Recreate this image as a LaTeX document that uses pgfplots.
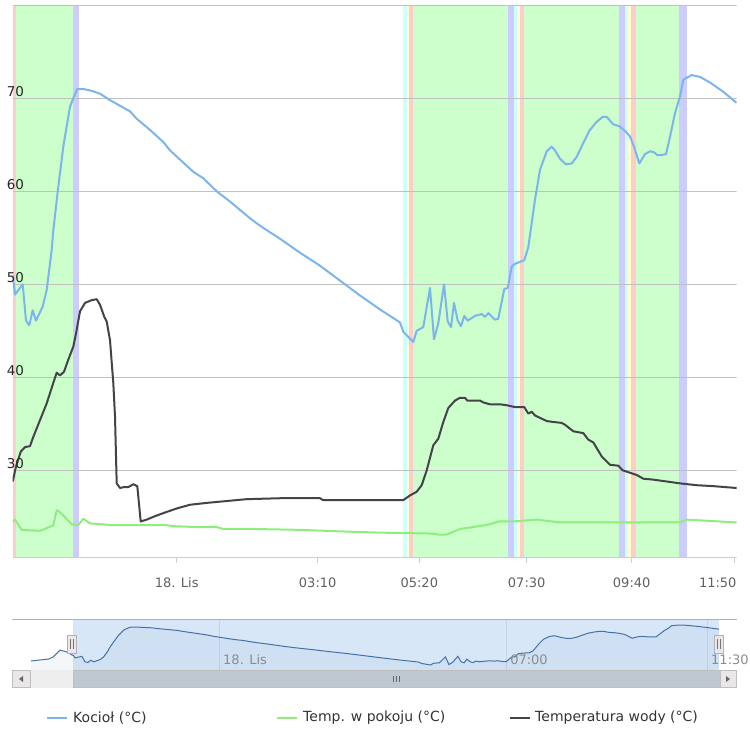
\documentclass[border=0pt]{standalone}
\usepackage{fontspec}
\setmainfont{DejaVu Sans}
\usepackage{pgfplots}
\usepackage{pgfplotstable}
\pgfplotsset{compat=1.18}

\definecolor{kociol}{HTML}{7CB5EC}
\definecolor{woda}{HTML}{434348}
\definecolor{pokoj}{HTML}{90ED7D}
\definecolor{bgreen}{HTML}{CCFFCC}
\definecolor{bviolet}{HTML}{CCCCFF}
\definecolor{bred}{HTML}{FFCCCC}
\definecolor{bcyan}{HTML}{CCFFFF}
\definecolor{byellow}{HTML}{FFFFCC}
\definecolor{gridgray}{HTML}{C0C0C0}
\definecolor{axisblue}{HTML}{C0D0E0}
\definecolor{labelgray}{HTML}{606060}
\definecolor{navblue}{HTML}{4572A7}
\definecolor{maskblue}{RGB}{216,231,248}
\definecolor{navgrid}{HTML}{C8D4E4}
\definecolor{outline}{HTML}{B2B1B6}
\definecolor{handlebg}{HTML}{EBE7E8}
\definecolor{track}{HTML}{EEEEEE}
\definecolor{thumb}{HTML}{BFC8D1}

% x is the position along the (ordinal) time axis, y in degrees C
\pgfplotstableread{
x y
12.7 51.0
15 48.9
22.7 50.0
26 46.1
29.3 45.6
32.7 47.2
36 46.1
42.7 47.6
46.7 49.4
51.7 53.7
53.3 55.8
58.3 60.5
63.3 64.8
70 69.1
74 70.2
77.3 71.0
83.3 71.0
91.7 70.8
100 70.5
110 69.8
120 69.2
130 68.6
136.7 67.8
150 66.6
163.3 65.3
170 64.4
193.3 62.1
203.3 61.4
216.7 60.0
230 58.9
250 57.1
260 56.3
280 54.9
300 53.4
320 52.0
340 50.4
360 48.8
380 47.3
400 45.9
403.3 44.9
413.3 43.8
416.7 45.0
423.3 45.4
430 49.6
434 44.1
438.3 45.8
444 50.0
447.7 46.0
451 45.4
454 48.0
457.7 46.1
461 45.5
464.3 46.6
467.7 46.1
475 46.6
481.7 46.8
485 46.5
488.3 46.9
495 46.2
498.3 46.3
504.3 49.5
507.7 49.6
511.7 51.9
515 52.2
524.3 52.6
528.3 54.0
535 59.1
540 62.3
546.7 64.3
551.7 64.8
555 64.4
560 63.5
566 62.9
571.7 63.0
576.7 63.7
583.3 65.2
589.3 66.5
596 67.4
602.7 68.0
606.7 68.0
613.3 67.2
619.3 67.0
625 66.5
630 65.9
634 64.8
639.3 63.0
645 64.0
650 64.3
654 64.2
657.3 63.9
661.7 63.9
666 64.0
669.3 65.5
675 68.4
680 70.2
683.3 72.0
691.7 72.5
700 72.3
710 71.7
723.3 70.7
736.7 69.5
}\kociolT

\pgfplotstableread{
x y
12.7 24.5
15 24.7
21.7 23.6
40 23.5
45 23.7
53.3 24.1
56.7 25.7
60 25.5
71.7 24.2
78.3 24.1
83.3 24.8
90 24.3
113.3 24.1
166.7 24.1
173.3 24.0
196.7 23.9
216.7 23.9
223.3 23.7
250 23.7
300 23.6
350 23.4
380 23.3
433.3 23.2
438.3 23.1
446.7 23.1
460 23.7
473.3 23.9
490 24.2
498.3 24.5
513.3 24.5
536.7 24.7
560 24.4
680 24.4
686.7 24.7
720 24.5
736.7 24.4
}\pokojT

\pgfplotstableread{
x y
12.7 28.8
16 30.4
20.7 32.0
25 32.5
30 32.6
33.3 33.6
40 35.4
46.7 37.2
53.3 39.4
56.7 40.5
60 40.2
64 40.6
68.3 41.9
73.3 43.3
76 44.7
80 47.1
85 48.0
91.7 48.3
96.7 48.4
100 47.8
104.3 46.5
106.7 46.0
110 44.0
113.3 39.4
115 35.8
116.7 28.6
120 28.1
124 28.2
128.3 28.2
133.3 28.5
137.3 28.3
140.7 24.5
146.7 24.7
153.3 25.0
163.3 25.4
176.7 25.9
190 26.3
206.7 26.5
226.7 26.7
246.7 26.9
280 27.0
320 27.0
323 26.8
380 26.8
403.3 26.8
410 27.3
416.7 27.7
421.7 28.4
426.7 30.0
433.3 32.7
438.3 33.4
443.3 35.2
448.3 36.7
455 37.5
460 37.8
465 37.8
467.3 37.5
480 37.5
483.3 37.3
490 37.1
500 37.1
506.7 37.0
515 36.8
524.3 36.8
528.3 36.1
531.7 36.3
535 35.9
546.7 35.3
553.3 35.2
561.7 35.1
565 34.9
573.3 34.2
583.3 34.0
588.3 33.3
593.3 33.0
601.7 31.5
610 30.6
618.3 30.5
622.7 30.0
628.3 29.8
636.7 29.5
643.3 29.1
653.3 29.0
666.7 28.8
680 28.6
696.7 28.4
713.3 28.3
736.7 28.1
}\wodaT

% boiler data before the visible range (navigator only)
\pgfplotstableread{
x y
-34.4 46.7
-24.3 47.4
-15 48.0
-9.7 49.5
-1.9 54.5
6.0 53.1
11.6 50.9
12.7 51.0
}\navearlyT

\newcommand{\band}[3]{%
  \addplot[fill=#1, draw=none, forget plot]
    coordinates {(#2,20.65) (#3,20.65) (#3,80) (#2,80)} -- cycle;}

\newcommand{\tickfont}{\fontsize{13}{15}\selectfont}

\begin{document}
\begin{tikzpicture}[x=1pt, y=1pt]

\begin{axis}[
  at={(12.7pt,192.7pt)}, anchor=south west,
  scale only axis, width=724pt, height=552pt,
  xmin=12.7, xmax=736.7, ymin=20.65, ymax=80,
  axis line style={draw=none},
  tick pos=left,
  ytick=\empty,
  xtick={176.7,317.7,419.3,526.7,631.7},
  xticklabels={18. Lis,03:10,05:20,07:30,09:40},
  extra x ticks={734.3},
  extra x tick labels={11:50},
  extra x tick style={xticklabel style={anchor=north east, xshift=2.4pt}},
  xtick align=outside,
  major tick length=6pt,
  xtick style={color=axisblue, line width=1pt},
  xticklabel style={font=\tickfont, color=labelgray, inner sep=0pt, anchor=north, yshift=-14.4pt},
]
\band{bred}{12.7}{15.7}
\band{bgreen}{15.7}{73.3}
\band{bviolet}{73.3}{79.3}
\band{bcyan}{403}{406.7}
\band{byellow}{406.7}{408.7}
\band{bred}{408.7}{413.3}
\band{bgreen}{413.3}{508.3}
\band{bviolet}{508.3}{514}
\band{bcyan}{514}{517.3}
\band{byellow}{517.3}{520}
\band{bred}{520}{524.3}
\band{bgreen}{524.3}{619.3}
\band{bviolet}{619.3}{625}
\band{bcyan}{625}{628.3}
\band{byellow}{628.3}{631}
\band{bred}{631}{636}
\band{bgreen}{636}{679.3}
\band{bviolet}{679.3}{686.7}

% horizontal grid lines over the bands, and anchors for the y labels
\foreach \g in {30,40,50,60,70,80} {
  \edef\tmp{\noexpand\draw[gridgray, line width=1pt] (axis cs:12.7,\g) -- (axis cs:736.7,\g);
            \noexpand\coordinate (yl\g) at (axis cs:12.7,\g);}\tmp
}
\draw[axisblue, line width=1pt] (rel axis cs:0,0) -- (rel axis cs:1,0);

\addplot[kociol, line width=2pt, line join=round] table {\kociolT};
\addplot[pokoj, line width=2pt, line join=round] table {\pokojT};
\addplot[woda, line width=2pt, line join=round] table {\wodaT};
\end{axis}

% y axis labels, set above the plot bands
\foreach \v in {30,40,50,60,70} {
  \node[anchor=base west, inner sep=0pt, font=\fontsize{13.5}{15}\selectfont, text=black!85]
    at ([xshift=-6pt, yshift=1.4pt]yl\v) {\v};
}

% navigator
\begin{axis}[
  at={(12pt,80pt)}, anchor=south west,
  scale only axis, width=725pt, height=50pt,
  xmin=-55.7, xmax=756.8, ymin=40.2, ymax=76.1,
  axis line style={draw=none},
  ytick=\empty, xtick=\empty,
]
\addplot[fill=maskblue, draw=none, forget plot]
  coordinates {(12.7,40.2) (736.7,40.2) (736.7,76.1) (12.7,76.1)} -- cycle;
\foreach \g/\n in {176.3/1,498/2,723.2/3} {
  \edef\tmp{\noexpand\draw[navgrid, line width=1pt] (axis cs:\g,40.2) -- (axis cs:\g,76.1);
            \noexpand\coordinate (nl\n) at (axis cs:\g,40.2);}\tmp
}
\addplot[fill=navblue, fill opacity=0.06, draw=none] table {\navearlyT} \closedcycle;
\addplot[fill=navblue, fill opacity=0.06, draw=none] table {\kociolT} \closedcycle;
\addplot[navblue, line width=1pt] table {\navearlyT};
\addplot[navblue, line width=1pt] table {\kociolT};
\end{axis}

% navigator axis labels
\foreach \n/\t in {1/18. Lis,2/07:00,3/11:30} {
  \node[anchor=base west, inner sep=0pt, font=\tickfont, text=black!45]
    at ([xshift=4pt, yshift=5pt]nl\n) {\t};
}

\draw[outline, line width=1pt] (12,130) -- (737,130);
% handles
\foreach \hx in {72,719} {
  \filldraw[fill=handlebg, draw=outline] (\hx-4.5,97) rectangle (\hx+4.5,115);
  \draw[black!55, line width=0.8pt] (\hx-1.5,101) -- (\hx-1.5,111) (\hx+1.5,101) -- (\hx+1.5,111);
}

% scrollbar
\fill[track] (30,62) rectangle (720,80);
\filldraw[fill=thumb, draw=black!25] (73,62.5) rectangle (720,79.5);
\filldraw[fill=handlebg, draw=black!25] (12.5,62.5) rectangle (30,79.5);
\filldraw[fill=handlebg, draw=black!25] (720,62.5) rectangle (736.5,79.5);
\fill[black!60] (19,71) -- (23,74) -- (23,68) -- cycle;
\fill[black!60] (730,71) -- (726,74) -- (726,68) -- cycle;
\draw[black!60, line width=0.8pt] (393,68) -- (393,74) (396,68) -- (396,74) (399,68) -- (399,74);

% legend
\begin{scope}[font=\fontsize{14}{16}\selectfont]
\draw[kociol, line width=2pt] (47,32) -- (67,32);
\node[anchor=west, inner sep=0pt, text=black!80] at (73,32) {Kocioł (°C)};
\draw[pokoj, line width=2pt] (277,32) -- (297,32);
\node[anchor=west, inner sep=0pt, text=black!80] at (303,32) {Temp. w pokoju (°C)};
\draw[woda, line width=2pt] (510,32) -- (530,32);
\node[anchor=west, inner sep=0pt, text=black!80] at (535,32) {Temperatura wody (°C)};
\end{scope}

\pgfresetboundingbox
\path[use as bounding box] (0,0) rectangle (750,750);
\end{tikzpicture}
\end{document}
